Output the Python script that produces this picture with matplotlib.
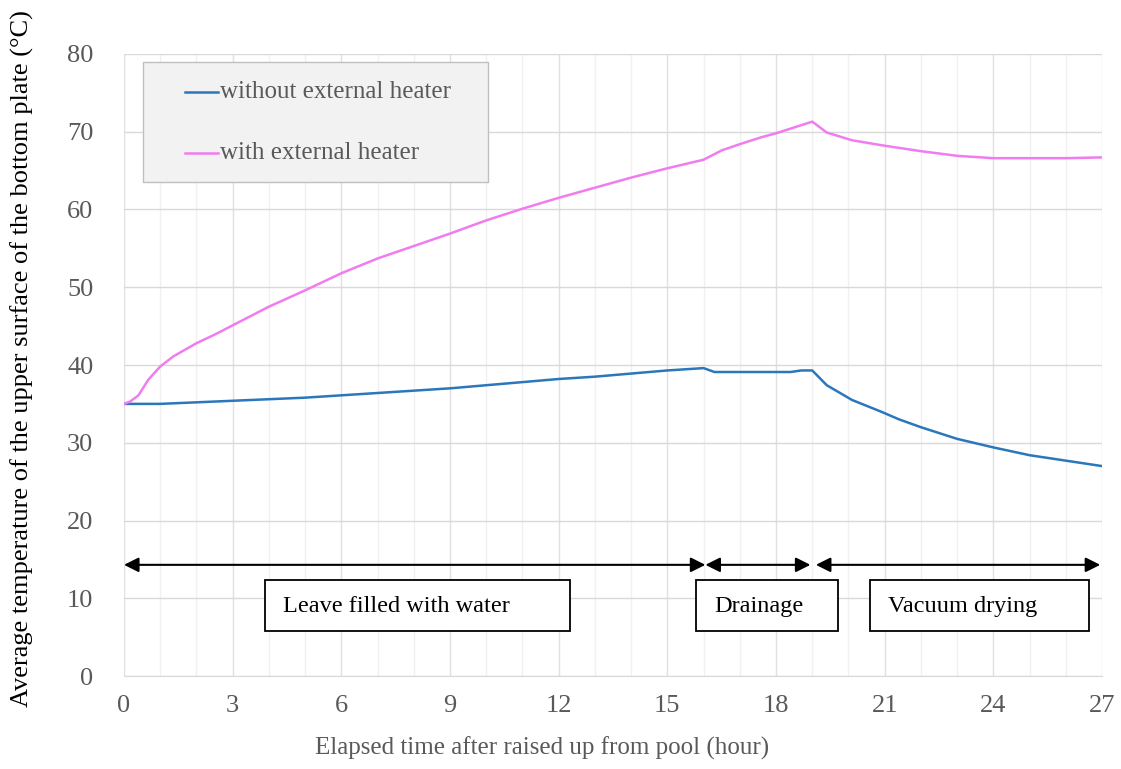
import matplotlib.pyplot as plt
from matplotlib.patches import Rectangle
from matplotlib.lines import Line2D
from matplotlib.ticker import MultipleLocator

plt.rcParams['font.family'] = ['Liberation Serif', 'DejaVu Serif']

# data
t_without = [0, 1, 2, 3, 4, 5, 6, 7, 8, 9, 10, 11, 12, 13, 14, 15, 16.0,
             16.3, 18.4, 18.7, 19.0, 19.4, 20.1, 20.9, 21.4, 22, 23, 24, 25, 26, 27]
temp_without = [35.0, 35.0, 35.2, 35.4, 35.6, 35.8, 36.1, 36.4, 36.7, 37.0, 37.4, 37.8, 38.2,
                38.5, 38.9, 39.3, 39.6,
                39.1, 39.1, 39.3, 39.3, 37.4, 35.5, 34.0, 33.0, 32.0, 30.5, 29.4, 28.4, 27.7, 27.0]

t_with = [0, 0.17, 0.4, 0.67, 1.0, 1.36, 2.0, 2.5, 3, 4, 5, 6, 7, 8, 9, 10, 11, 12, 13, 14, 15,
          16.0, 16.5, 17.0, 17.6, 18.0, 19.0, 19.4, 20.1, 21.0, 22, 23, 24, 25, 26, 27]
temp_with = [35.0, 35.3, 36.1, 38.1, 39.8, 41.1, 42.8, 43.9, 45.1, 47.5, 49.6, 51.8, 53.7, 55.3,
             56.9, 58.6, 60.1, 61.5, 62.8, 64.1, 65.3,
             66.4, 67.6, 68.4, 69.3, 69.8, 71.3, 69.9, 68.9, 68.2, 67.5, 66.9, 66.6, 66.6, 66.6, 66.7]

series_labels = ['without external heater', 'with external heater']
series_colors = ['#2a77bb', '#f07cf0']

phase_names = ['Leave filled with water', 'Drainage', 'Vacuum drying']
phase_spans = [(0, 16.05), (16.05, 18.95), (19.1, 26.95)]
box_spans = [(3.9, 12.3), (15.8, 19.7), (20.6, 26.65)]

grey = '#595959'

fig = plt.figure(figsize=(11.21, 7.69), dpi=100)
ax = fig.add_axes([0.1106, 0.1209, 0.8725, 0.8089])

ax.plot(t_without, temp_without, color=series_colors[0], lw=1.8)
ax.plot(t_with, temp_with, color=series_colors[1], lw=1.8)

ax.set_xlim(0, 27)
ax.set_ylim(0, 80)
ax.xaxis.set_major_locator(MultipleLocator(3))
ax.xaxis.set_minor_locator(MultipleLocator(1))
ax.yaxis.set_major_locator(MultipleLocator(10))
ax.grid(which='major', axis='y', color='#d9d9d9', lw=1.0)
ax.grid(which='major', axis='x', color='#e0e0e0', lw=1.0)
ax.grid(which='minor', axis='x', color='#f0f0f0', lw=1.0)
ax.set_axisbelow(True)
for s in ['top', 'right', 'left']:
    ax.spines[s].set_visible(False)
ax.spines['bottom'].set_color('#d9d9d9')
ax.tick_params(which='both', length=0, labelsize=19, labelcolor=grey)
ax.tick_params(axis='x', pad=14)
ax.tick_params(axis='y', pad=22)

ax.set_xlabel('Elapsed time after raised up from pool (hour)', fontsize=18, color=grey)
ax.xaxis.set_label_coords(0.427, -0.116)
ax.xaxis.label.set_va('center')
ax.set_ylabel('Average temperature of the upper surface of the bottom plate (°C)',
              fontsize=19, color='black')
ax.yaxis.set_label_coords(-0.104, 0.51)
ax.yaxis.label.set_va('center')

# phase arrows and boxes
for (a, b) in phase_spans:
    ax.annotate('', xy=(b, 14.3), xytext=(a, 14.3),
                arrowprops=dict(arrowstyle='<|-|>', color='black', lw=1.5,
                                mutation_scale=22, shrinkA=0, shrinkB=0))
for name, (a, b) in zip(phase_names, box_spans):
    ax.add_patch(Rectangle((a, 5.8), b - a, 6.55, facecolor='white',
                           edgecolor='black', lw=1.3, zorder=3))
    ax.text(a + 0.5, 8.9, name, fontsize=17.5, va='center', ha='left', zorder=4)

# legend panel
ax.add_patch(Rectangle((0.0194, 0.7942), 0.3528, 0.1929, transform=ax.transAxes,
                       facecolor='#f2f2f2', edgecolor='#bfbfbf', lw=1.0, zorder=5))
for i, (lab, col) in enumerate(zip(series_labels, series_colors)):
    yy = 0.9389 - i * 0.0981
    ax.add_line(Line2D([0.0624, 0.0961], [yy, yy], transform=ax.transAxes,
                       color=col, lw=1.8, zorder=6))
    ax.text(0.0982, yy, lab, transform=ax.transAxes, fontsize=18, color=grey,
            va='center', ha='left', zorder=6)

fig.savefig('out.png', dpi=100)
